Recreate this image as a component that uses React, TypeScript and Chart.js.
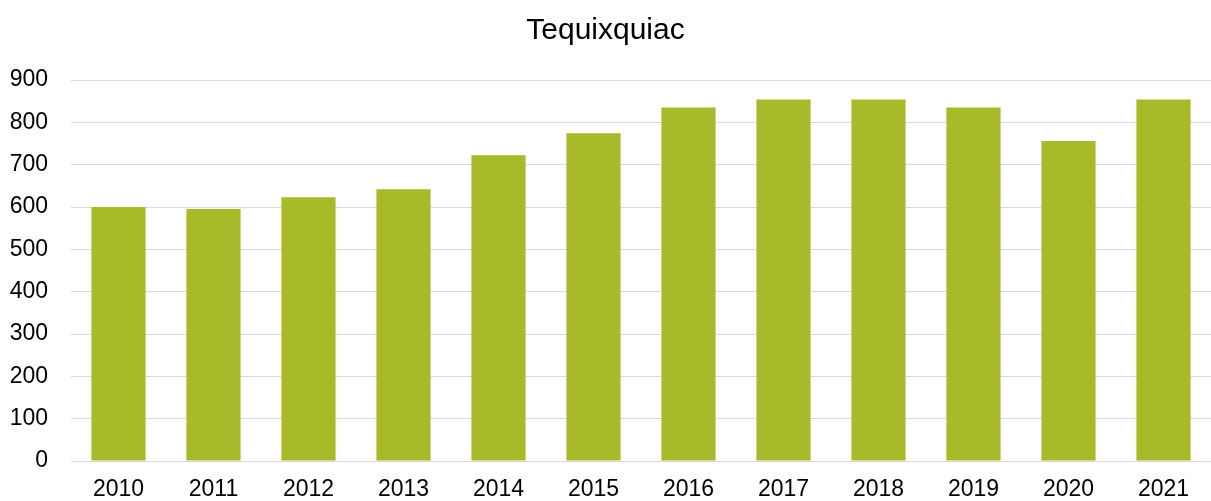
import React, { useEffect, useRef } from "react";
import { Chart, registerables } from "chart.js";

Chart.register(...registerables);

const categories = ["2010", "2011", "2012", "2013", "2014", "2015", "2016", "2017", "2018", "2019", "2020", "2021"];
const values = [600, 595, 623, 642, 722, 774, 835, 854, 854, 835, 756, 854];
const yTicks = [0, 100, 200, 300, 400, 500, 600, 700, 800, 900];
const title = "Tequixquiac";

export default function App() {
  const ref = useRef<HTMLCanvasElement | null>(null);

  useEffect(() => {
    document.body.style.margin = "0";
    const ctx = ref.current;
    if (!ctx) return;
    const font = "'Liberation Sans', Arial, sans-serif";
    const chart = new Chart(ctx, {
      type: "bar",
      data: {
        labels: categories,
        datasets: [
          {
            data: values,
            backgroundColor: "#A8B92A",
            borderWidth: 0,
            barPercentage: 0.57,
            categoryPercentage: 1,
          },
        ],
      },
      options: {
        animation: false,
        responsive: false,
        maintainAspectRatio: false,
        layout: { padding: { left: 0, right: 0, top: 0, bottom: 0 } },
        plugins: {
          legend: { display: false },
          tooltip: { enabled: false },
          title: {
            display: true,
            text: title,
            color: "#000000",
            font: { family: font, size: 30, weight: "normal", lineHeight: 1.2 },
            padding: { top: 13, bottom: 31 },
          },
        },
        scales: {
          x: {
            grid: { display: false, drawTicks: false },
            border: { display: true, color: "#D9D9D9", width: 1 },
            ticks: {
              color: "#000000",
              font: { family: font, size: 23, lineHeight: 1.2 },
              padding: 15,
              maxRotation: 0,
              autoSkip: false,
            },
            afterFit: (axis: any) => {
              axis.height = 40;
            },
          },
          y: {
            min: 0,
            max: 900,
            afterBuildTicks: (axis: any) => {
              axis.ticks = yTicks.map((v) => ({ value: v }));
            },
            grid: { color: "#D9D9D9", lineWidth: 1, drawTicks: false },
            border: { display: false },
            ticks: {
              color: "#000000",
              font: { family: font, size: 23, lineHeight: 1.2 },
              padding: 23,
            },
            afterFit: (axis: any) => {
              axis.width = 71;
            },
          },
        },
      },
    });
    return () => chart.destroy();
  }, []);

  return (
    <div style={{ width: 1211, height: 501, position: "relative" }}>
      <canvas ref={ref} width={1211} height={501} style={{ width: 1211, height: 501, display: "block" }} />
    </div>
  );
}
